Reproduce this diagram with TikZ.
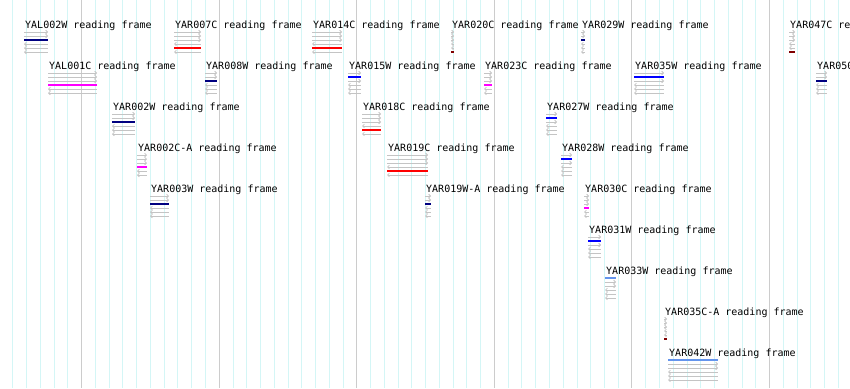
\documentclass[tikz,border=0pt]{standalone}
\usepackage{fontspec}
\setmonofont{DejaVu Sans Mono}
\usetikzlibrary{arrows.meta}
\definecolor{gridcyan}{HTML}{D4F6F6}
\definecolor{gridgrey}{HTML}{CCCCCC}
\definecolor{framegrey}{HTML}{C4C4C4}
\definecolor{orfnavy}{HTML}{000080}
\definecolor{orfblue}{HTML}{0000FF}
\definecolor{orfred}{HTML}{FF0000}
\definecolor{orfmagenta}{HTML}{FF00FF}
\definecolor{orfdarkred}{HTML}{800000}
\definecolor{orflight}{HTML}{6495ED}
\tikzset{
  orflabel/.style={anchor=base west, inner sep=0pt, font=\ttfamily\fontsize{10}{12}\selectfont, text=black},
  fwdframe/.style={draw=framegrey, line width=0.8pt, -{Straight Barb[length=1.8pt,width=3.6pt]}},
  revframe/.style={draw=framegrey, line width=0.8pt, {Straight Barb[length=1.8pt,width=3.6pt]}-},
  orfbar/.style={line width=2.8pt},
  minorgrid/.style={draw=gridcyan, line width=0.7pt},
  majorgrid/.style={draw=gridgrey, line width=1pt}
}
% #1 node name, #2 gene, #3 x start, #4 x end, #5 label baseline, #6 bar row, #7 colour
\newcommand\orffeat[7]{%
  \node[orflabel] (#1) at (#3+1,#5) {#2 reading frame};
  \foreach \r in {1,2,3}{%
    \ifnum\r=#6\relax\else\draw[fwdframe] (#3,#5+\r*4) -- (#4,#5+\r*4);\fi}
  \foreach \r in {4,5,6}{%
    \ifnum\r=#6\relax\else\draw[revframe] (#3,#5+\r*4) -- (#4,#5+\r*4);\fi}
  \draw[orfbar,#7] (#3,#5+#6*4) -- (#4,#5+#6*4);
}
\begin{document}
\begin{tikzpicture}[x=1pt,y=-1pt]
\useasboundingbox (0,0) rectangle (850,388);
\clip (0,0) rectangle (850,388);
\fill[white] (0,0) rectangle (850,388);
% grid
\foreach \k in {0,...,60}{%
  \pgfmathsetmacro\gx{12.7+13.76*\k}
  \pgfmathtruncatemacro\gm{mod(\k,10)}
  \ifnum\gm=5\relax
    \draw[majorgrid] (\gx,0) -- (\gx,388);
  \else
    \draw[minorgrid] (\gx,0) -- (\gx,388);
  \fi
}
% row 1
\orffeat{yal002w}{YAL002W}{24}{48}{28}{3}{orfnavy}
\orffeat{yar007c}{YAR007C}{174}{201}{28}{5}{orfred}
\orffeat{yar014c}{YAR014C}{312}{342}{28}{5}{orfred}
\orffeat{yar020c}{YAR020C}{451}{454}{28}{6}{orfdarkred}
\orffeat{yar029w}{YAR029W}{581}{585}{28}{3}{orfnavy}
\orffeat{yar047c}{YAR047C}{789}{795}{28}{6}{orfdarkred}
% row 2
\orffeat{yal001c}{YAL001C}{48}{97}{69}{4}{orfmagenta}
\orffeat{yar008w}{YAR008W}{205}{217}{69}{3}{orfnavy}
\orffeat{yar015w}{YAR015W}{348}{361}{69}{2}{orfblue}
\orffeat{yar023c}{YAR023C}{484}{492}{69}{4}{orfmagenta}
\orffeat{yar035w}{YAR035W}{634}{664}{69}{2}{orfblue}
\orffeat{yar050w}{YAR050W}{816}{827}{69}{3}{orfnavy}
% row 3
\orffeat{yar002w}{YAR002W}{112}{135}{110}{3}{orfnavy}
\orffeat{yar018c}{YAR018C}{362}{381}{110}{5}{orfred}
\orffeat{yar027w}{YAR027W}{546}{557}{110}{2}{orfblue}
% row 4
\orffeat{yar002ca}{YAR002C-A}{137}{147}{151}{4}{orfmagenta}
\orffeat{yar019c}{YAR019C}{387}{428}{151}{5}{orfred}
\orffeat{yar028w}{YAR028W}{561}{572}{151}{2}{orfblue}
% row 5
\orffeat{yar003w}{YAR003W}{150}{169}{192}{3}{orfnavy}
\orffeat{yar019wa}{YAR019W-A}{425}{431}{192}{3}{orfnavy}
\orffeat{yar030c}{YAR030C}{584}{589}{192}{4}{orfmagenta}
% rows 6-9
\orffeat{yar031w}{YAR031W}{588}{601}{233}{2}{orfblue}
\orffeat{yar033w}{YAR033W}{605}{616}{274}{1}{orflight}
\orffeat{yar035ca}{YAR035C-A}{664}{667}{315}{6}{orfdarkred}
\orffeat{yar042w}{YAR042W}{668}{718}{356}{1}{orflight}
\end{tikzpicture}
\end{document}
